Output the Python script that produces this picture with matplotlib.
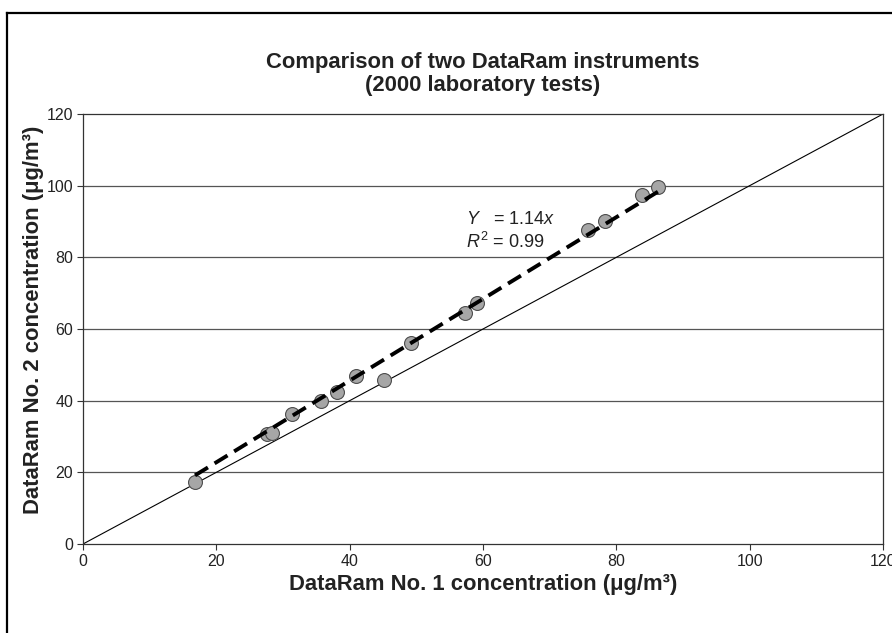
import matplotlib
matplotlib.use('Agg')
import matplotlib.pyplot as plt
from matplotlib.lines import Line2D
import numpy as np

plt.rcParams['font.family'] = ['Liberation Sans', 'DejaVu Sans']
plt.rcParams['mathtext.fontset'] = 'custom'
plt.rcParams['mathtext.rm'] = 'Liberation Sans'
plt.rcParams['mathtext.it'] = 'Liberation Sans:italic'

# readings from the two instruments (ug/m3)
dataram1 = [16.8, 27.6, 28.3, 31.4, 35.7, 38.1, 41.0, 45.2, 49.2, 57.3, 59.1, 75.8, 78.3, 83.8, 86.3]
dataram2 = [17.3, 30.7, 30.9, 36.3, 40.0, 42.5, 46.9, 45.8, 56.0, 64.6, 67.2, 87.6, 90.2, 97.4, 99.7]
slope = 1.14
r2 = 0.99
ticks = [0, 20, 40, 60, 80, 100, 120]

fig = plt.figure(figsize=(8.92, 6.33), dpi=100)
ax = fig.add_axes([83/892, 89/633, 800/892, 430/633])

# outer frame (only left and top show in the picture)
fig.add_artist(Line2D([7/892, 7/892], [0, 1 - 13/633], color='black', lw=1.6))
fig.add_artist(Line2D([7/892, 1], [1 - 13/633, 1 - 13/633], color='black', lw=1.6))

for t in ticks[1:-1]:
    ax.axhline(t, color='#555555', lw=0.9, zorder=1)

# 1:1 line
ax.plot([0, 120], [0, 120], color='black', lw=0.8, zorder=2)

# fitted line
xfit = np.array([min(dataram1), max(dataram1)])
ax.plot(xfit, slope * xfit, color='black', lw=2.8, dashes=(3.9, 2.0),
        solid_capstyle='butt', dash_capstyle='butt', zorder=4)

ax.scatter(dataram1, dataram2, s=100, facecolor='#a6a6a6', edgecolor='#4d4d4d',
           linewidth=0.8, zorder=3)

ax.text(57.5, 90.6, r'$\mathit{Y}$   = %.2f$\mathit{x}$' % slope, fontsize=13,
        va='center', ha='left', color='#222222')
ax.text(57.5, 84.2, r'$\mathit{R}^2$ = %.2f' % r2, fontsize=13,
        va='center', ha='left', color='#222222')

ax.set_xlim(0, 120)
ax.set_ylim(0, 120)
ax.set_xticks(ticks)
ax.set_yticks(ticks)
ax.tick_params(direction='out', length=4, width=0.8, color='#333333',
               labelsize=11.5, labelcolor='#222222', pad=3)
for s in ax.spines.values():
    s.set_color('#333333')
    s.set_linewidth(0.9)

ax.set_xlabel('DataRam No. 1 concentration (\u03bcg/m\u00b3)', fontsize=15.8,
              fontweight='bold', color='#222222', labelpad=3.5)
ax.set_ylabel('DataRam No. 2 concentration (\u03bcg/m\u00b3)', fontsize=15.8,
              fontweight='bold', color='#222222', labelpad=2)
ax.yaxis.label.set_y(0.521)

fig.text(0.5 * (83 + 883) / 892, 1 - 74/633,
         'Comparison of two DataRam instruments\n(2000 laboratory tests)',
         ha='center', va='center', fontsize=15.8, fontweight='bold',
         color='#222222', linespacing=1.1)

fig.savefig('out.png', dpi=100)
